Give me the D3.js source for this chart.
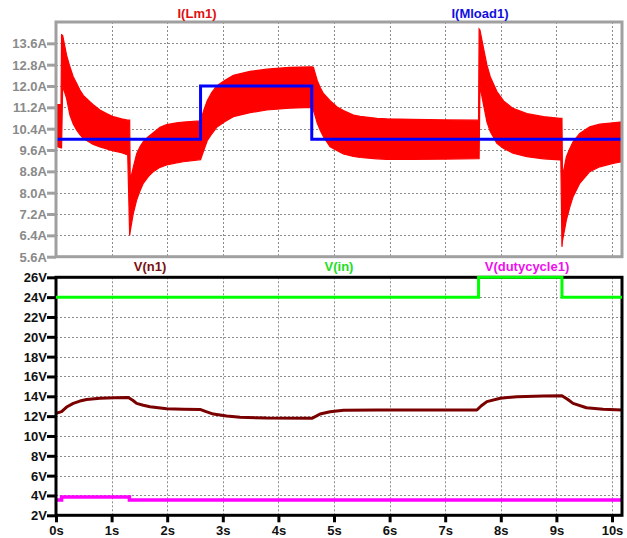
<!DOCTYPE html>
<html>
<head>
<meta charset="utf-8">
<script src="https://cdn.jsdelivr.net/npm/d3@7/dist/d3.min.js"></script>
<style>
  html, body { margin: 0; padding: 0; background: #ffffff; }
  svg { display: block; }
  text { font-family: "Liberation Sans", Arial, sans-serif; font-weight: bold; }
</style>
</head>
<body>
<svg id="chart" width="627" height="538"></svg>
<script>
// ---- time axis ----
const timeTicks = [0, 1, 2, 3, 4, 5, 6, 7, 8, 9, 10];
const timeEnd = 10.18;

// ---- upper pane: inductor current envelope (ripple band) ----
const lmTime  = [0.00, 0.09, 0.10, 0.12, 0.19, 0.25, 0.31, 0.37, 0.43, 0.49, 0.61, 0.67, 0.79, 0.91, 1.03, 1.18, 1.29,
                 1.325, 1.335, 1.39, 1.45, 1.51, 1.57, 1.66, 1.75, 1.87, 1.99, 2.17, 2.29, 2.60,
                 2.66, 2.72, 2.80, 2.89, 3.04, 3.19, 3.49, 3.79, 4.20, 4.60,
                 4.63, 4.70, 4.75, 4.81, 4.93, 5.05, 5.17, 5.35, 5.47, 5.77, 5.95, 6.40, 7.00, 7.60,
                 7.61, 7.625, 7.69, 7.75, 7.81, 7.93, 8.05, 8.22, 8.47, 8.77, 9.06, 9.08,
                 9.10, 9.11, 9.18, 9.24, 9.30, 9.42, 9.60, 9.78, 10.02, 10.18];
const lmUpper = [11.30, 11.30, 13.92, 13.90, 13.16, 12.72, 12.35, 12.10, 11.85, 11.65, 11.41, 11.30, 11.10, 10.97, 10.85, 10.77, 10.72,
                 10.72, 8.47, 8.95, 9.45, 9.72, 9.91, 10.10, 10.25, 10.45, 10.55, 10.62, 10.65, 10.69,
                 11.10, 11.45, 11.75, 12.00, 12.22, 12.40, 12.55, 12.63, 12.70, 12.72,
                 12.70, 12.20, 11.95, 11.72, 11.45, 11.22, 11.08, 10.91, 10.86, 10.79, 10.77, 10.75, 10.73, 10.72,
                 14.14, 14.10, 13.41, 12.79, 12.35, 11.79, 11.44, 11.16, 10.97, 10.85, 10.79, 10.79,
                 10.79, 8.60, 9.35, 9.65, 9.91, 10.22, 10.47, 10.57, 10.62, 10.66];
const lmLower = [9.75, 9.68, 9.68, 12.00, 11.54, 10.91, 10.58, 10.35, 10.18, 10.04, 9.88, 9.81, 9.72, 9.64, 9.57, 9.50, 9.42,
                 6.40, 6.55, 7.22, 7.72, 8.06, 8.35, 8.60, 8.79, 8.95, 9.04, 9.12, 9.16, 9.24,
                 9.60, 9.95, 10.20, 10.45, 10.67, 10.85, 11.00, 11.10, 11.17, 11.20,
                 11.10, 10.60, 10.35, 10.10, 9.72, 9.58, 9.45, 9.36, 9.32, 9.27, 9.25, 9.25, 9.26, 9.28,
                 9.28, 12.00, 11.29, 10.66, 10.29, 9.85, 9.66, 9.48, 9.35, 9.27, 9.23, 9.22,
                 5.97, 6.20, 6.98, 7.45, 7.85, 8.35, 8.79, 8.97, 9.10, 9.16];

// load current steps
const loadTime  = [0, 2.60, 4.60, 10.18];
const loadValue = [10.0, 12.0, 10.0, 10.0];

const currentTicks  = [5.6, 6.4, 7.2, 8.0, 8.8, 9.6, 10.4, 11.2, 12.0, 12.8, 13.6];
const currentDomain = [5.6, 14.4];

// ---- lower pane: node voltages ----
const n1Time  = [0.00, 0.10, 0.20, 0.31, 0.43, 0.55, 0.79, 1.05, 1.30, 1.38, 1.45, 1.57, 1.69, 1.99, 2.29, 2.59,
                 2.70, 2.83, 3.07, 3.31, 3.79, 4.60, 4.68, 4.75, 4.93, 5.17, 5.77, 7.57,
                 7.65, 7.75, 7.99, 8.29, 8.77, 9.10, 9.20, 9.30, 9.54, 9.84, 10.18];
const n1Value = [12.29, 12.45, 12.95, 13.29, 13.52, 13.68, 13.80, 13.86, 13.88, 13.60, 13.29, 13.10, 12.95, 12.75, 12.70, 12.68,
                 12.45, 12.21, 12.01, 11.88, 11.80, 11.78, 12.00, 12.21, 12.45, 12.59, 12.62, 12.62,
                 13.05, 13.46, 13.80, 13.96, 14.04, 14.06, 13.70, 13.29, 12.85, 12.69, 12.62];

const inTime  = [0, 7.60, 9.10, 10.18];
const inValue = [24, 26, 24, 24];

const dutyTime  = [0, 0.10, 1.32, 10.18];
const dutyValue = [3.55, 3.85, 3.55, 3.55];

const voltageTicks  = [2, 4, 6, 8, 10, 12, 14, 16, 18, 20, 22, 24, 26];
const voltageDomain = [2, 26];

// ---- layout ----
const svg = d3.select("#chart");
const plotLeft = 56, plotRight = 622;
const upper = { top: 22, bottom: 256.7 };
const lower = { top: 277.3, bottom: 515.3 };

const x = d3.scaleLinear().domain([0, timeEnd]).range([plotLeft, plotRight]);
const yI = d3.scaleLinear().domain(currentDomain).range([upper.bottom, upper.top]);
const yV = d3.scaleLinear().domain(voltageDomain).range([lower.bottom, lower.top]);

const defs = svg.append("defs");
defs.append("clipPath").attr("id", "clipUpper").append("rect")
  .attr("x", plotLeft).attr("y", upper.top).attr("width", plotRight - plotLeft).attr("height", upper.bottom - upper.top);
defs.append("clipPath").attr("id", "clipLower").append("rect")
  .attr("x", plotLeft).attr("y", lower.top - 2).attr("width", plotRight - plotLeft).attr("height", lower.bottom - lower.top + 2);

function grid(g, yScale, yTicks, pane) {
  const gg = g.append("g").attr("stroke", "#8c8c8c").attr("stroke-width", 1).attr("stroke-dasharray", "2,2");
  gg.selectAll("line.h").data(yTicks.slice(1)).join("line")
    .attr("x1", plotLeft).attr("x2", plotRight)
    .attr("y1", d => Math.round(yScale(d)) + 0.5).attr("y2", d => Math.round(yScale(d)) + 0.5);
  gg.selectAll("line.v").data(timeTicks.slice(1)).join("line")
    .attr("x1", d => Math.round(x(d)) + 0.5).attr("x2", d => Math.round(x(d)) + 0.5)
    .attr("y1", pane.top).attr("y2", pane.bottom);
}

// ---- upper pane ----
const gU = svg.append("g");
grid(gU, yI, currentTicks, upper);

const band = lmTime.map((t, i) => ({ t, hi: lmUpper[i], lo: lmLower[i] }));
gU.append("path")
  .attr("clip-path", "url(#clipUpper)")
  .datum(band)
  .attr("fill", "#ff0000")
  .attr("stroke", "#ff0000")
  .attr("stroke-width", 1.2)
  .attr("d", d3.area().x(d => x(d.t)).y0(d => yI(d.lo)).y1(d => yI(d.hi)));

const stepLine = (xs, ys, yScale) =>
  d3.line().curve(d3.curveStepAfter).x(d => xs(d[0])).y(d => yScale(d[1]));

gU.append("path")
  .attr("clip-path", "url(#clipUpper)")
  .datum(loadTime.map((t, i) => [t, loadValue[i]]))
  .attr("fill", "none").attr("stroke", "#0000ff").attr("stroke-width", 3)
  .attr("d", stepLine(x, null, yI));

gU.append("rect")
  .attr("x", plotLeft).attr("y", upper.top)
  .attr("width", plotRight - plotLeft).attr("height", upper.bottom - upper.top)
  .attr("fill", "none").attr("stroke", "#a0a0a0").attr("stroke-width", 3);

const axI = d3.axisLeft(yI).tickValues(currentTicks).tickSize(9).tickSizeOuter(0).tickPadding(0)
  .tickFormat(d => d.toFixed(1) + "A");
const gAxI = gU.append("g").attr("transform", `translate(${plotLeft},0)`).call(axI);
gAxI.select(".domain").remove();
gAxI.selectAll(".tick line").attr("stroke", "#a0a0a0").attr("stroke-width", 3);
gAxI.selectAll(".tick text").attr("fill", "#8a8a8a").attr("font-size", 13)
  .attr("font-family", "Liberation Sans, Arial, sans-serif").attr("font-weight", "bold").attr("dy", "0.34em").attr("x", -9);

gU.append("text").attr("x", 197).attr("y", 18).attr("text-anchor", "middle")
  .attr("font-size", 13).attr("fill", "#e01010").text("I(Lm1)");
gU.append("text").attr("x", 480).attr("y", 18).attr("text-anchor", "middle")
  .attr("font-size", 13).attr("fill", "#1010e0").text("I(Mload1)");

// ---- lower pane ----
const gL = svg.append("g");
grid(gL, yV, voltageTicks, lower);

gL.append("path")
  .attr("clip-path", "url(#clipLower)")
  .datum(n1Time.map((t, i) => [t, n1Value[i]]))
  .attr("fill", "none").attr("stroke", "#7a0000").attr("stroke-width", 3).attr("stroke-linejoin", "round")
  .attr("d", d3.line().x(d => x(d[0])).y(d => yV(d[1])));

gL.append("path")
  .attr("clip-path", "url(#clipLower)")
  .datum(dutyTime.map((t, i) => [t, dutyValue[i]]))
  .attr("fill", "none").attr("stroke", "#ff00ff").attr("stroke-width", 3.5)
  .attr("d", stepLine(x, null, yV));

gL.append("rect")
  .attr("x", plotLeft).attr("y", lower.top)
  .attr("width", plotRight - plotLeft).attr("height", lower.bottom - lower.top)
  .attr("fill", "none").attr("stroke", "#000000").attr("stroke-width", 3);

gL.append("path")
  .attr("clip-path", "url(#clipLower)")
  .datum(inTime.map((t, i) => [t, inValue[i]]))
  .attr("fill", "none").attr("stroke", "#00ff00").attr("stroke-width", 3)
  .attr("d", stepLine(x, null, yV));

const axV = d3.axisLeft(yV).tickValues(voltageTicks).tickSize(9).tickSizeOuter(0).tickPadding(0)
  .tickFormat(d => d + "V");
const gAxV = gL.append("g").attr("transform", `translate(${plotLeft},0)`).call(axV);
gAxV.select(".domain").remove();
gAxV.selectAll(".tick line").attr("stroke", "#000").attr("stroke-width", 3);
gAxV.selectAll(".tick text").attr("fill", "#111").attr("font-size", 13)
  .attr("font-family", "Liberation Sans, Arial, sans-serif").attr("font-weight", "bold").attr("dy", "0.34em").attr("x", -9);

const axT = d3.axisBottom(x).tickValues(timeTicks).tickSize(7).tickSizeOuter(0).tickPadding(3)
  .tickFormat(d => d + "s");
const gAxT = gL.append("g").attr("transform", `translate(0,${lower.bottom})`).call(axT);
gAxT.select(".domain").remove();
gAxT.selectAll(".tick line").attr("stroke", "#000").attr("stroke-width", 3);
gAxT.selectAll(".tick text").attr("fill", "#111").attr("font-size", 13)
  .attr("font-family", "Liberation Sans, Arial, sans-serif").attr("font-weight", "bold");

gL.append("text").attr("x", 150).attr("y", 271).attr("text-anchor", "middle")
  .attr("font-size", 13).attr("fill", "#7a1010").text("V(n1)");
gL.append("text").attr("x", 339).attr("y", 271).attr("text-anchor", "middle")
  .attr("font-size", 13).attr("fill", "#22dd22").text("V(in)");
gL.append("text").attr("x", 527).attr("y", 271).attr("text-anchor", "middle")
  .attr("font-size", 13).attr("fill", "#ee10ee").text("V(dutycycle1)");
</script>
</body>
</html>
